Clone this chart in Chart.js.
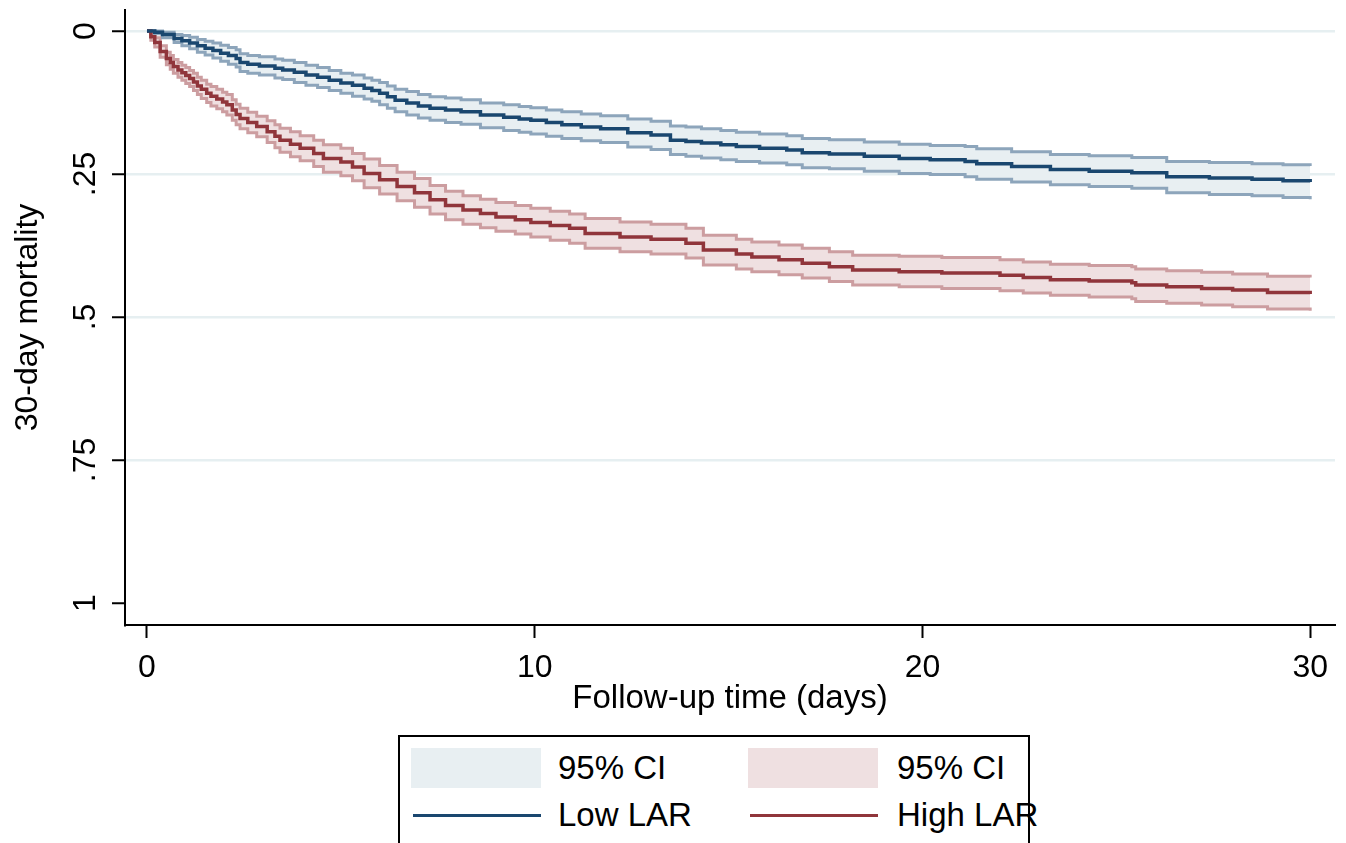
<!DOCTYPE html>
<html>
<head>
<meta charset="utf-8">
<script src="https://cdn.jsdelivr.net/npm/chart.js@4.4.1/dist/chart.umd.min.js"></script>
<style>
    body { margin: 0; background: #fff; overflow: hidden; font-family: "Liberation Sans", Arial, sans-serif; }
    #wrap { position: absolute; left: 0; top: 0; width: 1346px; height: 725px; }
    #leyenda {
        position: absolute; left: 398px; top: 735px; width: 632px; height: 130px;
        border: 2px solid #000; box-sizing: border-box;
    }
    .sw { position: absolute; width: 130px; height: 40px; }
    .ln { position: absolute; width: 128px; height: 3px; }
    .tx { position: absolute; font-size: 33px; line-height: 40px; color: #000; white-space: nowrap; }
</style>
</head>
<body>
<div id="wrap"><canvas id="kmChart"></canvas></div>
<div id="leyenda">
    <div class="sw" style="left:11px; top:11px; background:#e8eff2"></div>
    <div class="tx" style="left:158px; top:11px">95% CI</div>
    <div class="sw" style="left:348px; top:11px; background:#efe0e1"></div>
    <div class="tx" style="left:497px; top:11px">95% CI</div>
    <div class="ln" style="left:13px; top:77px; background:#1a476f"></div>
    <div class="tx" style="left:158px; top:58px">Low LAR</div>
    <div class="ln" style="left:350px; top:77px; background:#90353b"></div>
    <div class="tx" style="left:497px; top:58px">High LAR</div>
</div>
<script>
/* -----------------------------
   DATOS
----------------------------- */
const xTicks = [0, 10, 20, 30];
const xTickLabels = ["0", "10", "20", "30"];
const yTicks = [0, 0.25, 0.5, 0.75, 1];
const yTickLabels = ["0", ".25", ".5", ".75", "1"];

// Low LAR
const lowTime = [0, 0.2, 0.4, 0.7, 0.9, 1.1, 1.3, 1.5, 1.7, 1.9, 2.1, 2.3, 2.4, 2.6, 2.9, 3.3, 3.5, 3.8, 4.1, 4.4, 4.7, 5.0, 5.3, 5.6, 5.8,
    6.0, 6.2, 6.4, 6.7, 7.0, 7.3, 7.7, 8.1, 8.6, 9.2, 9.6, 9.9, 10.3, 10.7, 11.2, 11.7, 12.4, 13.0, 13.5, 13.9, 14.3, 14.8, 15.2, 15.8,
    16.5, 16.9, 17.6, 18.5, 19.4, 20.2, 21.1, 21.4, 22.3, 23.3, 24.3, 25.4, 26.3, 27.4, 28.5, 29.3, 30];
const lowMean = [0, 0.002, 0.006, 0.013, 0.017, 0.021, 0.026, 0.030, 0.034, 0.039, 0.043, 0.048, 0.055, 0.058, 0.061, 0.065, 0.068, 0.072, 0.077, 0.081, 0.086, 0.091, 0.095, 0.100, 0.104,
    0.109, 0.115, 0.121, 0.126, 0.131, 0.135, 0.138, 0.141, 0.147, 0.151, 0.154, 0.156, 0.160, 0.164, 0.168, 0.171, 0.178, 0.182, 0.191, 0.193, 0.196, 0.199, 0.202, 0.205,
    0.208, 0.213, 0.215, 0.219, 0.223, 0.225, 0.228, 0.232, 0.237, 0.242, 0.245, 0.248, 0.255, 0.257, 0.259, 0.262, 0.264];
const lowLower = [0, 0.000, 0.002, 0.006, 0.008, 0.011, 0.015, 0.018, 0.021, 0.025, 0.029, 0.033, 0.040, 0.043, 0.045, 0.049, 0.051, 0.055, 0.060, 0.064, 0.069, 0.074, 0.077, 0.082, 0.086,
    0.090, 0.096, 0.102, 0.106, 0.111, 0.115, 0.117, 0.120, 0.126, 0.129, 0.132, 0.134, 0.138, 0.141, 0.145, 0.148, 0.154, 0.158, 0.166, 0.168, 0.171, 0.174, 0.177, 0.180,
    0.183, 0.188, 0.190, 0.194, 0.198, 0.200, 0.202, 0.206, 0.211, 0.216, 0.218, 0.221, 0.228, 0.230, 0.232, 0.234, 0.236];
const lowUpper = [0, 0.005, 0.012, 0.020, 0.026, 0.031, 0.037, 0.042, 0.047, 0.053, 0.058, 0.063, 0.071, 0.074, 0.077, 0.082, 0.085, 0.090, 0.095, 0.099, 0.104, 0.109, 0.114, 0.119, 0.123,
    0.129, 0.135, 0.141, 0.147, 0.152, 0.156, 0.160, 0.163, 0.169, 0.174, 0.177, 0.180, 0.184, 0.188, 0.192, 0.195, 0.203, 0.207, 0.216, 0.219, 0.222, 0.225, 0.228, 0.231,
    0.234, 0.239, 0.241, 0.245, 0.249, 0.251, 0.255, 0.259, 0.264, 0.269, 0.272, 0.275, 0.283, 0.286, 0.288, 0.291, 0.294];

// High LAR
const highTime = [0, 0.1, 0.2, 0.34, 0.5, 0.6, 0.68, 0.8, 0.9, 1.0, 1.1, 1.2, 1.3, 1.4, 1.54, 1.65, 1.8, 1.95, 2.06, 2.2, 2.3, 2.4, 2.6, 2.83,
    3.1, 3.3, 3.43, 3.7, 3.95, 4.3, 4.55, 5.0, 5.3, 5.6, 6.0, 6.45, 6.9, 7.3, 7.7, 8.15, 8.6, 9.0, 9.5, 9.9, 10.4, 10.9, 11.3, 12.2, 13.0,
    13.9, 14.35, 15.2, 15.6, 16.3, 16.9, 17.6, 18.2, 19.4, 20.5, 22.0, 22.6, 23.3, 24.3, 25.4, 25.5, 26.3, 27.2, 28.0, 28.9, 30];
const highMean = [0, 0.010, 0.020, 0.036, 0.048, 0.055, 0.062, 0.068, 0.073, 0.078, 0.083, 0.089, 0.096, 0.102, 0.109, 0.114, 0.119, 0.124, 0.129, 0.138, 0.146, 0.153, 0.160, 0.167,
    0.176, 0.184, 0.191, 0.198, 0.205, 0.214, 0.223, 0.229, 0.238, 0.249, 0.260, 0.272, 0.283, 0.295, 0.305, 0.313, 0.319, 0.325, 0.330, 0.335, 0.340, 0.345, 0.354, 0.360, 0.364,
    0.371, 0.383, 0.390, 0.395, 0.400, 0.406, 0.412, 0.418, 0.421, 0.423, 0.427, 0.431, 0.435, 0.437, 0.440, 0.444, 0.447, 0.450, 0.453, 0.457, 0.460];
const highLower = [0, 0.004, 0.012, 0.026, 0.037, 0.043, 0.050, 0.055, 0.060, 0.064, 0.069, 0.074, 0.081, 0.086, 0.093, 0.097, 0.102, 0.107, 0.111, 0.120, 0.128, 0.135, 0.142, 0.149,
    0.157, 0.164, 0.170, 0.176, 0.183, 0.191, 0.199, 0.205, 0.214, 0.224, 0.235, 0.247, 0.258, 0.270, 0.280, 0.288, 0.294, 0.300, 0.305, 0.310, 0.315, 0.320, 0.328, 0.334, 0.338,
    0.345, 0.357, 0.364, 0.369, 0.374, 0.380, 0.386, 0.392, 0.394, 0.396, 0.400, 0.404, 0.408, 0.410, 0.412, 0.416, 0.419, 0.422, 0.425, 0.429, 0.431];
const highUpper = [0, 0.016, 0.028, 0.046, 0.059, 0.067, 0.074, 0.081, 0.086, 0.092, 0.097, 0.104, 0.111, 0.118, 0.125, 0.131, 0.136, 0.141, 0.147, 0.156, 0.164, 0.171, 0.178, 0.185,
    0.195, 0.204, 0.212, 0.220, 0.227, 0.237, 0.247, 0.253, 0.262, 0.274, 0.285, 0.297, 0.308, 0.320, 0.330, 0.338, 0.344, 0.350, 0.355, 0.360, 0.366, 0.371, 0.380, 0.386, 0.390,
    0.397, 0.409, 0.416, 0.421, 0.426, 0.432, 0.438, 0.444, 0.447, 0.450, 0.454, 0.458, 0.462, 0.465, 0.468, 0.473, 0.476, 0.479, 0.482, 0.486, 0.489];

/* -----------------------------
   COLORES
----------------------------- */
const azul = "#1a476f";
const azulCI = "#8da5bb";
const azulRelleno = "#e8eff2";
const rojo = "#90353b";
const rojoCI = "#cc9da0";
const rojoRelleno = "#efe0e1";
const colorRejilla = "#e6eff1";

function puntos(tiempos, valores) {
    return tiempos.map((t, i) => ({ x: t, y: valores[i] }));
}

function serie(tiempos, valores, color, ancho, orden, relleno) {
    return {
        data: puntos(tiempos, valores),
        borderColor: color,
        borderWidth: ancho,
        backgroundColor: relleno || color,
        fill: relleno ? "-1" : false,
        stepped: true,
        pointRadius: 0,
        tension: 0,
        order: orden
    };
}

const ctx = document.getElementById("kmChart");

new Chart(ctx, {
    type: "line",
    data: {
        datasets: [
            serie(lowTime, lowLower, azulCI, 3, 1),
            serie(lowTime, lowUpper, azulCI, 3, 1, azulRelleno),
            serie(lowTime, lowMean, azul, 3.5, 0),
            serie(highTime, highLower, rojoCI, 3, 1),
            serie(highTime, highUpper, rojoCI, 3, 1, rojoRelleno),
            serie(highTime, highMean, rojo, 3.5, 0)
        ]
    },
    options: {
        responsive: true,
        maintainAspectRatio: false,
        animation: false,
        layout: { padding: { top: 10, right: 11, left: 0, bottom: 0 } },
        plugins: {
            legend: { display: false },
            tooltip: { enabled: false },
            filler: { propagate: false }
        },
        scales: {
            x: {
                type: "linear",
                min: -0.567,
                max: 30.64,
                afterBuildTicks: (scale) => { scale.ticks = xTicks.map(v => ({ value: v })); },
                afterFit: (scale) => { scale.height = 100; scale.paddingLeft = 0; scale.paddingRight = 0; },
                ticks: {
                    color: "#000",
                    font: { family: "Liberation Sans, Arial", size: 32 },
                    padding: 11,
                    maxRotation: 0,
                    callback: (v, i) => xTickLabels[i]
                },
                grid: {
                    drawOnChartArea: false,
                    tickLength: 13,
                    tickColor: "#000",
                    tickWidth: 2
                },
                border: { display: true, color: "#000", width: 2 },
                title: {
                    display: true,
                    text: "Follow-up time (days)",
                    color: "#000",
                    font: { family: "Liberation Sans, Arial", size: 33 },
                    padding: { top: 0, bottom: 6 }
                }
            },
            y: {
                type: "linear",
                reverse: true,
                min: -0.0367,
                max: 1.0385,
                afterBuildTicks: (scale) => { scale.ticks = yTicks.map(v => ({ value: v })); },
                afterFit: (scale) => { scale.width = 125; scale.paddingTop = 0; scale.paddingBottom = 0; },
                ticks: {
                    color: "#000",
                    font: { family: "Liberation Sans, Arial", size: 32 },
                    padding: 4,
                    minRotation: 90,
                    maxRotation: 90,
                    crossAlign: "center",
                    callback: (v, i) => yTickLabels[i]
                },
                grid: {
                    color: (c) => (c.tick && c.tick.value === 1) ? "rgba(0,0,0,0)" : colorRejilla,
                    lineWidth: 2.5,
                    tickLength: 13,
                    tickColor: "#000",
                    tickWidth: 2
                },
                border: { display: true, color: "#000", width: 2 },
                title: {
                    display: true,
                    text: "30-day mortality",
                    color: "#000",
                    font: { family: "Liberation Sans, Arial", size: 32 },
                    padding: { top: 9, bottom: 0 }
                }
            }
        }
    }
});
</script>
</body>
</html>
